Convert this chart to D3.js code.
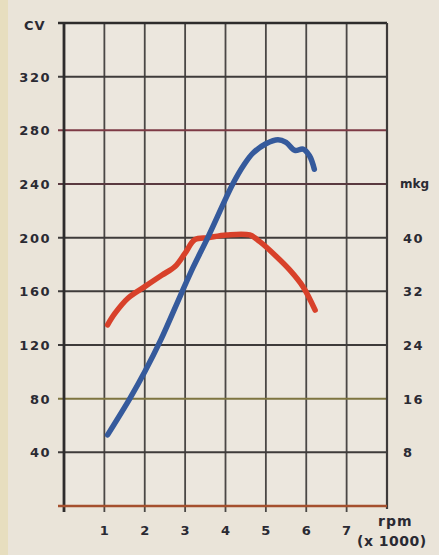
<!DOCTYPE html>
<html><head><meta charset="utf-8">
<script src="https://cdn.jsdelivr.net/npm/d3@7/dist/d3.min.js"></script>
<style>
html,body{margin:0;padding:0;background:#ebe5db;}
svg{display:block;}
text{font-family:"DejaVu Sans",sans-serif;font-weight:bold;fill:#2a2a33;}
</style></head>
<body>
<script>
// Data
const rpmTicks = [1, 2, 3, 4, 5, 6, 7];
const cvTicks = [40, 80, 120, 160, 200, 240, 280, 320];
const mkgTicks = [8, 16, 24, 32, 40];
const powerRpm = [1.08, 1.63, 2.0, 2.4, 2.9, 3.2, 3.56, 4.18, 4.45, 4.68, 5.0, 5.3, 5.5, 5.72, 5.92, 6.08, 6.2];
const powerCV  = [53, 80, 100, 124, 158, 178, 200, 240, 254, 263, 270, 273, 271, 265, 266, 261, 251];
const torqueRpm = [1.08, 1.26, 1.59, 2.0, 2.42, 2.75, 3.0, 3.24, 3.57, 4.03, 4.6, 4.85, 5.26, 5.59, 5.92, 6.22];
const torqueMkg = [27.0, 28.7, 31.0, 32.7, 34.4, 35.7, 37.7, 39.7, 40.0, 40.4, 40.4, 39.4, 37.2, 35.2, 32.7, 29.2];

const W = 439, H = 555;
const L = 64, R = 387, T = 23, B = 506;
const svg = d3.select("body").append("svg").attr("width", W).attr("height", H);

// background + left yellow strip
svg.append("rect").attr("width", W).attr("height", H).attr("fill", "#eae4d9");
svg.append("rect").attr("x", 0).attr("y", 0).attr("width", 8).attr("height", H).attr("fill", "#e6dcb8").attr("opacity", 0.8);
svg.append("rect").attr("x", L).attr("y", T).attr("width", R - L).attr("height", B - T).attr("fill", "#ece7de");

const x = d3.scaleLinear().domain([0, 8]).range([L, R]);
const y = d3.scaleLinear().domain([0, 360]).range([B, T]);
const y2 = d3.scaleLinear().domain([0, 72]).range([B, T]);

const lineColor = v => v === 280 ? "#7d3a45" : v === 240 ? "#5a3a40" : v === 80 ? "#7e7540" : "#3e3b3a";

// vertical grid
svg.append("g").selectAll("line").data(rpmTicks).join("line")
  .attr("x1", d => x(d)).attr("x2", d => x(d)).attr("y1", T).attr("y2", B + 6)
  .attr("stroke", "#4a4745").attr("stroke-width", 1.8);

// horizontal grid
svg.append("g").selectAll("line").data(cvTicks).join("line")
  .attr("x1", L - 6).attr("x2", R).attr("y1", d => y(d)).attr("y2", d => y(d))
  .attr("stroke", lineColor).attr("stroke-width", 2);

// frame
svg.append("line").attr("x1", L - 6).attr("x2", R).attr("y1", T).attr("y2", T).attr("stroke", "#2e2c2c").attr("stroke-width", 2.5);
svg.append("line").attr("x1", L).attr("x2", L).attr("y1", T).attr("y2", B + 6).attr("stroke", "#2e2c2c").attr("stroke-width", 2.8);
svg.append("line").attr("x1", R).attr("x2", R).attr("y1", T).attr("y2", B + 3).attr("stroke", "#3e3b3a").attr("stroke-width", 2.2);
svg.append("line").attr("x1", L - 6).attr("x2", R).attr("y1", B).attr("y2", B).attr("stroke", "#a5502e").attr("stroke-width", 2.5);

// left labels
svg.append("g").selectAll("text").data(cvTicks).join("text")
  .attr("x", 51).attr("y", d => y(d) + 5).attr("text-anchor", "end")
  .attr("font-size", 13).attr("letter-spacing", 1.5).text(d => d);
svg.append("text").attr("x", 24).attr("y", 30).attr("font-size", 13).attr("letter-spacing", 1).text("CV");

// right labels
svg.append("g").selectAll("text").data(mkgTicks).join("text")
  .attr("x", 403).attr("y", d => y2(d) + 5)
  .attr("font-size", 13).attr("letter-spacing", 1.5).text(d => d);
svg.append("text").attr("x", 400).attr("y", y2(48) + 4).attr("font-size", 12).text("mkg");

// bottom labels
svg.append("g").selectAll("text").data(rpmTicks).join("text")
  .attr("x", d => x(d)).attr("y", 535).attr("text-anchor", "middle")
  .attr("font-size", 13).text(d => d);
svg.append("text").attr("x", 378).attr("y", 526).attr("font-size", 14).attr("letter-spacing", 1).text("rpm");
svg.append("text").attr("x", 357).attr("y", 546).attr("font-size", 14).attr("letter-spacing", 0.5).text("(x 1000)");

// curves
const pLine = d3.line().x(d => x(d[0])).y(d => y(d[1])).curve(d3.curveCatmullRom);
const tLine = d3.line().x(d => x(d[0])).y(d => y2(d[1])).curve(d3.curveCatmullRom);

svg.append("path").datum(torqueRpm.map((r, i) => [r, torqueMkg[i]]))
  .attr("d", tLine).attr("fill", "none").attr("stroke", "#d8412a")
  .attr("stroke-width", 5.5).attr("stroke-linecap", "round").attr("stroke-linejoin", "round");
svg.append("path").datum(powerRpm.map((r, i) => [r, powerCV[i]]))
  .attr("d", pLine).attr("fill", "none").attr("stroke", "#355a9c")
  .attr("stroke-width", 5.5).attr("stroke-linecap", "round").attr("stroke-linejoin", "round");
</script>
</body></html>
